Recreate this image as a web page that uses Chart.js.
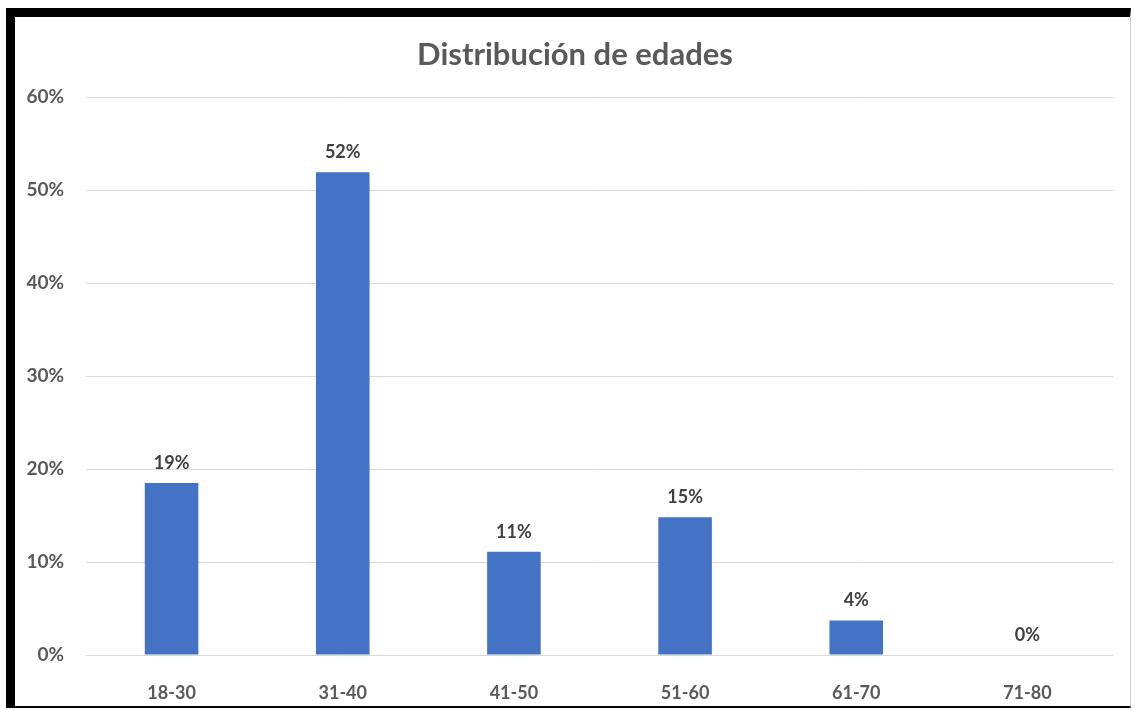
<!DOCTYPE html>
<html>
<head>
<meta charset="utf-8">
<script src="https://cdn.jsdelivr.net/npm/chart.js@4/dist/chart.umd.min.js"></script>
<style>
  html, body { margin: 0; padding: 0; background: #fff; }
  #frame {
    position: absolute; left: 6px; top: 8px; width: 1115px; height: 689px;
    border-left: 9px solid #000; border-top: 9px solid #000;
    border-bottom: 2px solid #000; border-right: 1px solid #d0d0d0;
    background: #fff;
  }
  #wrap { position: absolute; left: 0; top: 0; width: 1135px; height: 710px; }
</style>
</head>
<body>
<div id="frame"></div>
<div id="wrap"><canvas id="chart" width="1135" height="710"></canvas></div>
<script>
// age groups and share of respondents
const categories = ["18-30", "31-40", "41-50", "51-60", "61-70", "71-80"];
const shares = [18.5, 51.9, 11.1, 14.8, 3.7, 0];
const shareLabels = ["19%", "52%", "11%", "15%", "4%", "0%"];
const yTicks = [0, 10, 20, 30, 40, 50, 60];
const titleText = "Distribución de edades";

const FONT = "Lato, 'Liberation Sans', sans-serif";

// draw the percentage above each bar
const valueLabels = {
  id: "valueLabels",
  afterDatasetsDraw(chart) {
    const ctx = chart.ctx;
    const meta = chart.getDatasetMeta(0);
    ctx.save();
    ctx.font = "bold 18px " + FONT;
    ctx.fillStyle = "#404040";
    ctx.textAlign = "center";
    ctx.textBaseline = "middle";
    meta.data.forEach((bar, i) => {
      ctx.fillText(shareLabels[i], bar.x, bar.y - 20);
    });
    ctx.restore();
  },
};

// title centred on the frame rather than the plot box
const frameTitle = {
  id: "frameTitle",
  afterDraw(chart) {
    const ctx = chart.ctx;
    ctx.save();
    ctx.font = "bold 31px " + FONT;
    ctx.fillStyle = "#595959";
    ctx.textAlign = "center";
    ctx.textBaseline = "middle";
    ctx.fillText(titleText, 575, 55);
    ctx.restore();
  },
};

const ctx = document.getElementById("chart").getContext("2d");
const chart = new Chart(ctx, {
  type: "bar",
  data: {
    labels: categories,
    datasets: [{
      data: shares,
      backgroundColor: "#4472c4",
      categoryPercentage: 1,
      barPercentage: 0.313,
    }],
  },
  options: {
    responsive: false,
    animation: false,
    layout: { padding: { top: 97, right: 22, bottom: 0, left: 0 } },
    plugins: {
      legend: { display: false },
      tooltip: { enabled: false },
      title: { display: false },
    },
    scales: {
      x: {
        grid: { display: false },
        border: { display: false },
        ticks: {
          color: "#595959",
          padding: 19,
          maxRotation: 0,
          font: { family: FONT, size: 18, weight: "bold" },
        },
        afterFit(scale) { scale.height = 55; },
      },
      y: {
        min: 0,
        max: 60,
        afterBuildTicks(scale) {
          scale.ticks = yTicks.map((v) => ({ value: v }));
        },
        grid: { color: "#d9d9d9", lineWidth: 1, drawTicks: false },
        border: { display: false },
        ticks: {
          color: "#595959",
          padding: 22,
          font: { family: FONT, size: 19, weight: "bold" },
          callback: function (value) {
            return value + "%";
          },
        },
        afterFit(scale) { scale.width = 86; },
      },
    },
  },
  plugins: [valueLabels, frameTitle],
});
</script>
</body>
</html>
